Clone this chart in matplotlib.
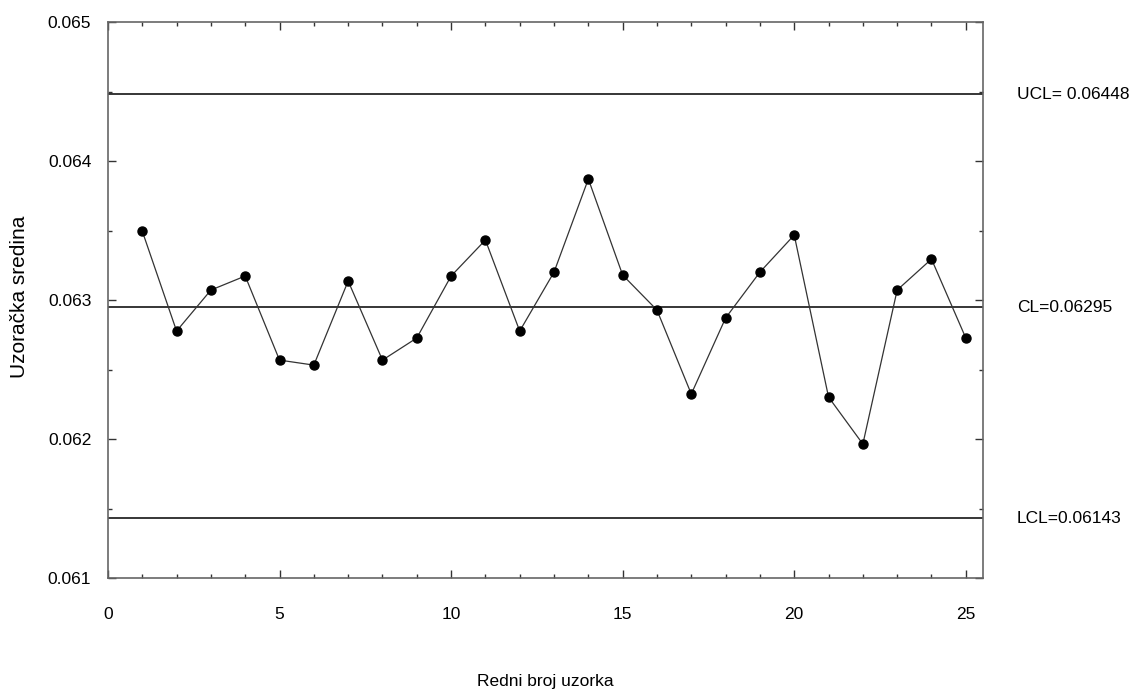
import matplotlib
matplotlib.use("Agg")
import matplotlib.pyplot as plt
from matplotlib.ticker import MultipleLocator

plt.rcParams["font.family"] = ["Liberation Sans", "DejaVu Sans"]

# sample means
uzorak = list(range(1, 26))
sredina = [0.063496, 0.062777, 0.063072, 0.063173, 0.062568, 0.062532, 0.063137,
           0.062568, 0.062727, 0.063173, 0.063432, 0.062777, 0.063201, 0.063871,
           0.063180, 0.062928, 0.062324, 0.062871, 0.063201, 0.063468, 0.062302,
           0.061964, 0.063072, 0.063295, 0.062727]

ucl = 0.06448
cl = 0.06295
lcl = 0.06143
limit_labels = ["UCL= 0.06448", "CL=0.06295", "LCL=0.06143"]

fig = plt.figure(figsize=(11.34, 6.91), dpi=100)
ax = fig.add_axes([0.0952, 0.1635, 0.7716, 0.8045])

fs = 12.5

for val, lab in zip([ucl, cl, lcl], limit_labels):
    ax.axhline(val, color="black", linewidth=1.1)
    ax.annotate(lab, xy=(1.0, val), xycoords=("axes fraction", "data"),
                xytext=(34, 0), textcoords="offset pixels",
                va="center", ha="left", fontsize=fs)

ax.plot(uzorak, sredina, color="#333333", linewidth=0.9, marker="o",
        markersize=6.5, markerfacecolor="black", markeredgecolor="black")

ax.set_xlim(0, 25.5)
ax.set_ylim(0.061, 0.065)
ax.xaxis.set_major_locator(MultipleLocator(5))
ax.xaxis.set_minor_locator(MultipleLocator(1))
ax.yaxis.set_major_locator(MultipleLocator(0.001))
ax.yaxis.set_minor_locator(MultipleLocator(0.0005))
ax.yaxis.set_major_formatter(plt.FuncFormatter(lambda v, p: f"{v:.3f}"))

ax.tick_params(which="both", direction="in", top=True, right=True,
               labelsize=fs, color="#333333")
ax.tick_params(which="major", length=6, width=1)
ax.tick_params(which="minor", length=3, width=1)
ax.tick_params(axis="x", which="major", pad=21)
ax.tick_params(axis="y", which="major", pad=12)

for s in ax.spines.values():
    s.set_color("#666666")
    s.set_linewidth(1.2)

ax.set_xlabel("Redni broj uzorka", fontsize=12.5)
ax.xaxis.set_label_coords(0.5, -0.172)
ax.set_ylabel("Uzoračka sredina", fontsize=15)
ax.yaxis.set_label_coords(-0.09, 0.505)

fig.savefig("out.png", dpi=100)
